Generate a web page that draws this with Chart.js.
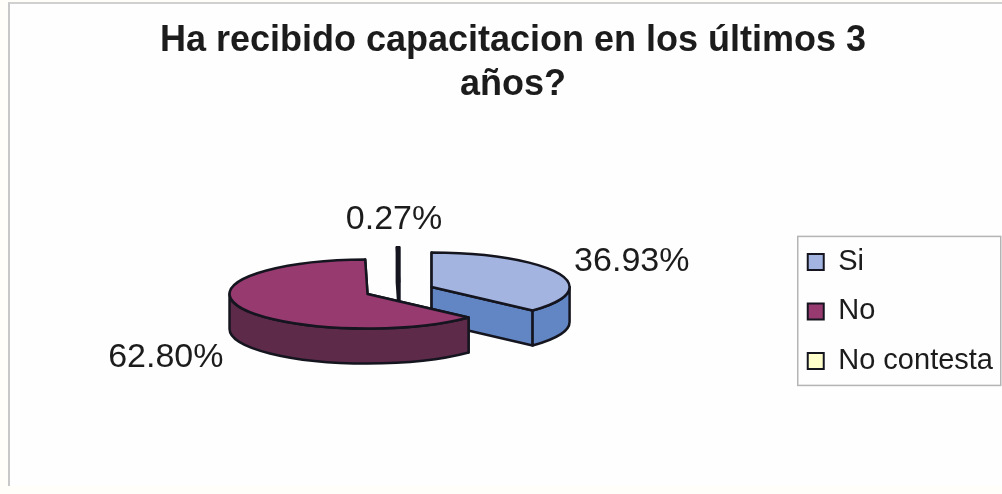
<!DOCTYPE html>
<html>
<head>
<meta charset="utf-8">
<title>Capacitacion</title>
<script src="https://cdn.jsdelivr.net/npm/chart.js@4/dist/chart.umd.min.js"></script>
<style>
    html, body { margin: 0; padding: 0; background: #fffef8; }
    #wrap { position: relative; width: 1002px; height: 494px; overflow: hidden; }
    #wrap:before { content: ""; position: absolute; left: 8px; top: 2px; width: 994px; height: 484px; background: #fefefe; border-top: 2px solid #d0d0d0; border-left: 2px solid #c8c8c8; box-sizing: border-box; }
    canvas { position: absolute; left: 0; top: 0; }
</style>
</head>
<body>
<div id="wrap"><canvas id="myPieChart" width="1002" height="494"></canvas></div>
<script>
var titleLines = ["Ha recibido capacitacion en los últimos 3", "años?"];
var categories = ["Si", "No", "No contesta"];
var values = [36.93, 62.80, 0.27];

var topColors = ["#a3b4e0", "#973a70", "#ffffcc"];
var sideColors = ["#6286c4", "#5e2a4a", "#9a9a70"];
var outline = "#15151f";

// squashed, exploded pie: the library lays the slices out, this draws them tilted
var pieX = 399.5, pieY = 290.5;
var squash = 0.25, depth = 35, explode = 35;

// where each percentage sits relative to the middle of its slice's rim
var labelNudge = [[16, -12], [-18, 50], [-4, -28]];

function drawSlice(ctx, arc, i) {
    var p = arc.getProps(['startAngle', 'endAngle', 'outerRadius']);
    var a0 = p.startAngle, a1 = p.endAngle, r = p.outerRadius;
    var mid = (a0 + a1) / 2;
    var ax = pieX + Math.cos(mid) * explode;
    var ay = pieY + Math.sin(mid) * explode * squash;

    ctx.lineWidth = 2.5;
    ctx.lineJoin = 'round';
    ctx.strokeStyle = outline;
    ctx.fillStyle = sideColors[i];

    // cut faces
    [a0, a1].forEach(function (a) {
        var rx = ax + Math.cos(a) * r, ry = ay + Math.sin(a) * r * squash;
        ctx.beginPath();
        ctx.moveTo(ax, ay);
        ctx.lineTo(rx, ry);
        ctx.lineTo(rx, ry + depth);
        ctx.lineTo(ax, ay + depth);
        ctx.closePath();
        ctx.fill();
        ctx.stroke();
    });

    // front part of the rim
    var lo = Math.max(a0, 0), hi = Math.min(a1, Math.PI);
    if (hi > lo) {
        ctx.beginPath();
        ctx.ellipse(ax, ay, r, r * squash, 0, lo, hi);
        ctx.ellipse(ax, ay + depth, r, r * squash, 0, hi, lo, true);
        ctx.closePath();
        ctx.fill();
        ctx.stroke();
    }

    // top
    ctx.fillStyle = topColors[i];
    ctx.beginPath();
    ctx.moveTo(ax, ay);
    ctx.ellipse(ax, ay, r, r * squash, 0, a0, a1);
    ctx.closePath();
    ctx.fill();
    ctx.stroke();
}

function drawLabel(ctx, arc, i) {
    var p = arc.getProps(['startAngle', 'endAngle', 'outerRadius']);
    var mid = (p.startAngle + p.endAngle) / 2;
    var ax = pieX + Math.cos(mid) * explode;
    var ay = pieY + Math.sin(mid) * explode * squash;
    var x = ax + Math.cos(mid) * p.outerRadius + labelNudge[i][0];
    var y = ay + Math.sin(mid) * p.outerRadius * squash + labelNudge[i][1];
    var c = Math.cos(mid);

    ctx.font = "34px 'Liberation Sans'";
    ctx.fillStyle = "#1c1c1c";
    ctx.textBaseline = 'middle';
    ctx.textAlign = Math.abs(c) < 0.1 ? 'center' : (c > 0 ? 'left' : 'right');
    ctx.fillText(values[i].toFixed(2) + '%', x, y);
}

var tiltedPie = {
    id: 'tiltedPie',
    beforeDatasetDraw: function (chart, args) {
        var ctx = chart.ctx;
        var arcs = args.meta.data;
        ctx.save();
        // thin slice first, the big one overlaps the others
        [2, 0, 1].forEach(function (i) { drawSlice(ctx, arcs[i], i); });
        arcs.forEach(function (arc, i) { drawLabel(ctx, arc, i); });
        ctx.restore();
        return false;
    },
    // box around the legend
    afterDraw: function (chart) {
        var ctx = chart.ctx, lg = chart.legend;
        var midY = (lg.top + lg.bottom) / 2;
        ctx.save();
        ctx.strokeStyle = "#b4b4b4";
        ctx.lineWidth = 1.5;
        ctx.strokeRect(lg.left + 10.5, midY - 75, 203, 149);
        ctx.restore();
    }
};

new Chart(document.getElementById("myPieChart"), {
    type: 'pie',
    data: {
        labels: categories,
        datasets: [{
            data: values,
            backgroundColor: topColors,
            borderColor: outline,
            borderWidth: 2,
            radius: 138
        }]
    },
    options: {
        responsive: false,
        animation: false,
        layout: {
            padding: { left: 23, right: -1, top: 0, bottom: 0 }
        },
        plugins: {
            tooltip: { enabled: false },
            title: {
                display: true,
                text: titleLines,
                color: "#1c1c1c",
                font: { family: "'Liberation Sans'", size: 36, weight: 'bold', lineHeight: 1.22 },
                padding: { top: 19.5, bottom: 21.5 }
            },
            legend: {
                position: 'right',
                fullSize: false,
                labels: {
                    color: "#1c1c1c",
                    font: { family: "'Liberation Sans'", size: 29 },
                    boxWidth: 16,
                    boxHeight: 16,
                    padding: 20.5
                }
            }
        }
    },
    plugins: [tiltedPie]
});
</script>
</body>
</html>
